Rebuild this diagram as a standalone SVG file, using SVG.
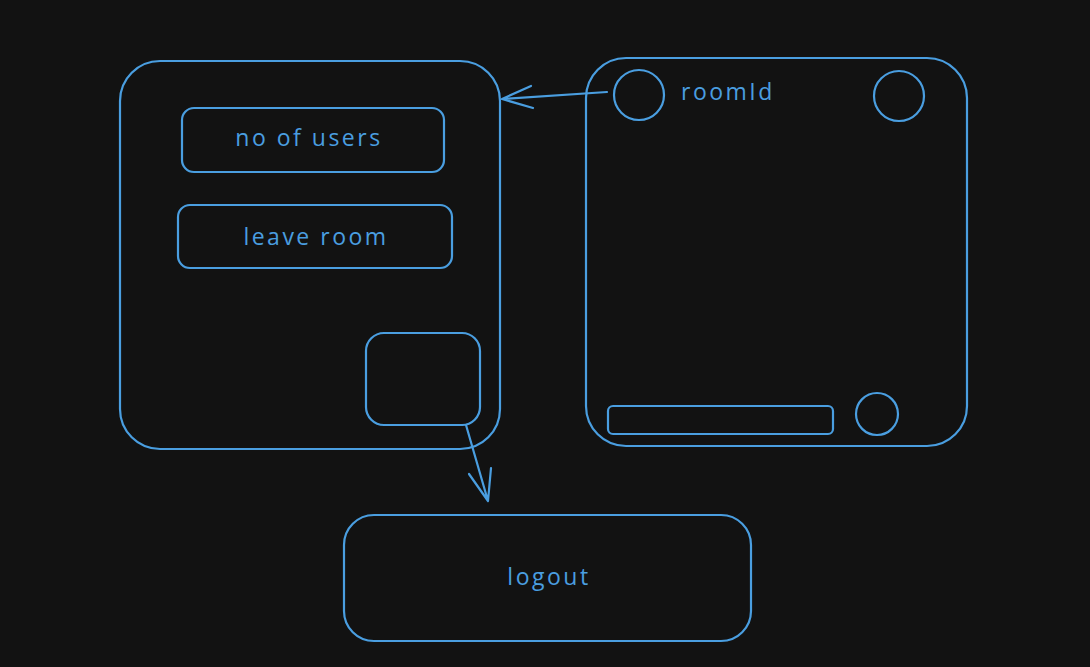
<svg xmlns="http://www.w3.org/2000/svg" width="1090" height="667" viewBox="0 0 1090 667">
<style>
.s{fill:none;stroke:#4a9ee0;stroke-width:2.2;stroke-linecap:round;stroke-linejoin:round}
.t{fill:#4a9ee0;font-family:"Open Sans","Liberation Sans",sans-serif;font-size:23px;letter-spacing:2.5px}
</style>
<rect width="1090" height="667" fill="#121212"/>
<g id="left-panel"><rect class="s" x="120" y="61" width="380" height="388" rx="40"/></g>
<g id="no-of-users"><rect class="s" x="182" y="108" width="262" height="64" rx="12"/><text class="t" x="309" y="146" text-anchor="middle">no of users</text></g>
<g id="leave-room"><rect class="s" x="178" y="205" width="274" height="63" rx="12"/><text class="t" x="316" y="245" text-anchor="middle">leave room</text></g>
<g id="small-box"><rect class="s" x="366" y="333" width="114" height="92" rx="18"/></g>
<g id="right-panel"><rect class="s" x="586" y="58" width="381" height="388" rx="40"/></g>
<g id="circle-tl"><circle class="s" cx="639" cy="95" r="25"/></g>
<g id="roomId"><text class="t" x="681" y="100">roomId</text></g>
<g id="circle-tr"><circle class="s" cx="899" cy="96" r="25"/></g>
<g id="input-bar"><rect class="s" x="608" y="406" width="225" height="28" rx="5"/></g>
<g id="circle-br"><circle class="s" cx="877" cy="414" r="21"/></g>
<g id="logout"><rect class="s" x="344" y="515" width="407" height="126" rx="30"/><text class="t" x="549" y="585" text-anchor="middle">logout</text></g>
<g id="connectors">
<path class="s" d="M607 92 L502 99 M531 86 L502 99 L533 108"/>
<path class="s" d="M466 425 L488 501 M469 474 L488 501 L491 468"/>
</g>
</svg>
